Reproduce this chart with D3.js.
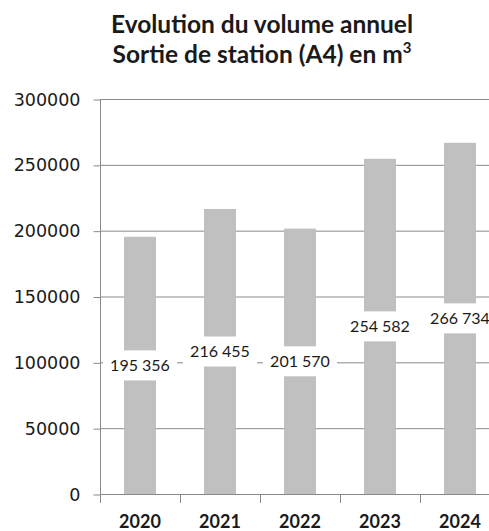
<!DOCTYPE html>
<html lang="fr">
<head>
    <meta charset="UTF-8">
    <script src="https://d3js.org/d3.v7.min.js"></script>
    <title>Evolution du volume annuel</title>
    <style>
        body { margin: 0; background: #fff; }
        text { fill: #1a1a1a; }
    </style>
</head>
<body>
    <div id="chart"></div>
    <script>
        // data
        const years = ["2020", "2021", "2022", "2023", "2024"];
        const volumes = [195356, 216455, 201570, 254582, 266734];
        const yTicks = [0, 50000, 100000, 150000, 200000, 250000, 300000];

        const W = 489, H = 531;
        const plotLeft = 100, plotRight = 500, plotTop = 99, plotBottom = 494;

        const svg = d3.select("#chart")
            .append("svg")
            .attr("width", W)
            .attr("height", H);

        const x = d3.scaleBand()
            .domain(years)
            .range([plotLeft, plotRight])
            .paddingInner(0.6)
            .paddingOuter(0.3);

        const y = d3.scaleLinear()
            .domain([0, 300000])
            .range([plotBottom, plotTop]);

        // title
        const titleFont = "24.5px";
        svg.append("text")
            .attr("x", 262).attr("y", 33)
            .attr("text-anchor", "middle")
            .style("font-family", "Lato, sans-serif")
            .style("font-weight", "bold")
            .style("font-size", titleFont)
            .text("Evolution du volume annuel");
        const line2 = svg.append("text")
            .attr("x", 262).attr("y", 63)
            .attr("text-anchor", "middle")
            .style("font-family", "Lato, sans-serif")
            .style("font-weight", "bold")
            .style("font-size", titleFont);
        line2.append("tspan").text("Sortie de station (A4) en m");
        line2.append("tspan").attr("dy", -10).style("font-size", "15px").text("3");

        // gridlines
        svg.append("g")
            .selectAll("line")
            .data(yTicks.filter(d => d > 0))
            .join("line")
            .attr("x1", plotLeft).attr("x2", W)
            .attr("y1", d => y(d) + 0.5).attr("y2", d => y(d) + 0.5)
            .attr("stroke", "#8a8a8a");

        // y axis
        const yAxis = svg.append("g")
            .attr("transform", `translate(${plotLeft + 0.5},0.5)`)
            .call(d3.axisLeft(y).tickValues(yTicks).tickFormat(d3.format("d")).tickSize(7).tickSizeOuter(0));
        yAxis.select(".domain").remove();
        yAxis.selectAll("line").attr("stroke", "#8a8a8a");
        yAxis.selectAll("text")
            .attr("x", -20)
            .style("font-family", "'DejaVu Sans', sans-serif")
            .style("font-size", "17.5px")
            .attr("fill", "#111");
        svg.append("line")
            .attr("x1", plotLeft + 0.5).attr("x2", plotLeft + 0.5)
            .attr("y1", plotTop).attr("y2", plotBottom + 9)
            .attr("stroke", "#8a8a8a");

        // x axis
        svg.append("line")
            .attr("x1", plotLeft).attr("x2", W)
            .attr("y1", plotBottom + 0.5).attr("y2", plotBottom + 0.5)
            .attr("stroke", "#8a8a8a");
        svg.append("g")
            .selectAll("line")
            .data(years)
            .join("line")
            .attr("x1", (d, i) => plotLeft + i * x.step() + 0.5)
            .attr("x2", (d, i) => plotLeft + i * x.step() + 0.5)
            .attr("y1", plotBottom).attr("y2", plotBottom + 9)
            .attr("stroke", "#8a8a8a");
        svg.append("g")
            .selectAll("text")
            .data(years)
            .join("text")
            .attr("x", d => x(d) + x.bandwidth() / 2)
            .attr("y", 528)
            .attr("text-anchor", "middle")
            .style("font-family", "Lato, sans-serif")
            .style("font-weight", "bold")
            .style("font-size", "18px")
            .text(d => d);

        // bars
        svg.append("g")
            .selectAll("rect")
            .data(volumes)
            .join("rect")
            .attr("x", (d, i) => x(years[i]))
            .attr("width", x.bandwidth())
            .attr("y", d => y(d))
            .attr("height", d => plotBottom - y(d))
            .attr("fill", "#c0c0c0");

        // labels with white box
        const fmt = d => d3.format(",")(d).replace(",", " ");
        const labels = svg.append("g")
            .selectAll("g")
            .data(volumes)
            .join("g")
            .attr("transform", (d, i) => `translate(${x(years[i]) + x.bandwidth() / 2},${y(d / 2)})`);
        labels.append("rect")
            .attr("x", -37).attr("width", 74)
            .attr("y", -15).attr("height", 30)
            .attr("fill", "#fff");
        labels.append("text")
            .attr("text-anchor", "middle")
            .attr("dy", "0.35em")
            .style("font-family", "Lato, sans-serif")
            .style("font-size", "16px")
            .text(d => fmt(d));
    </script>
</body>
</html>
